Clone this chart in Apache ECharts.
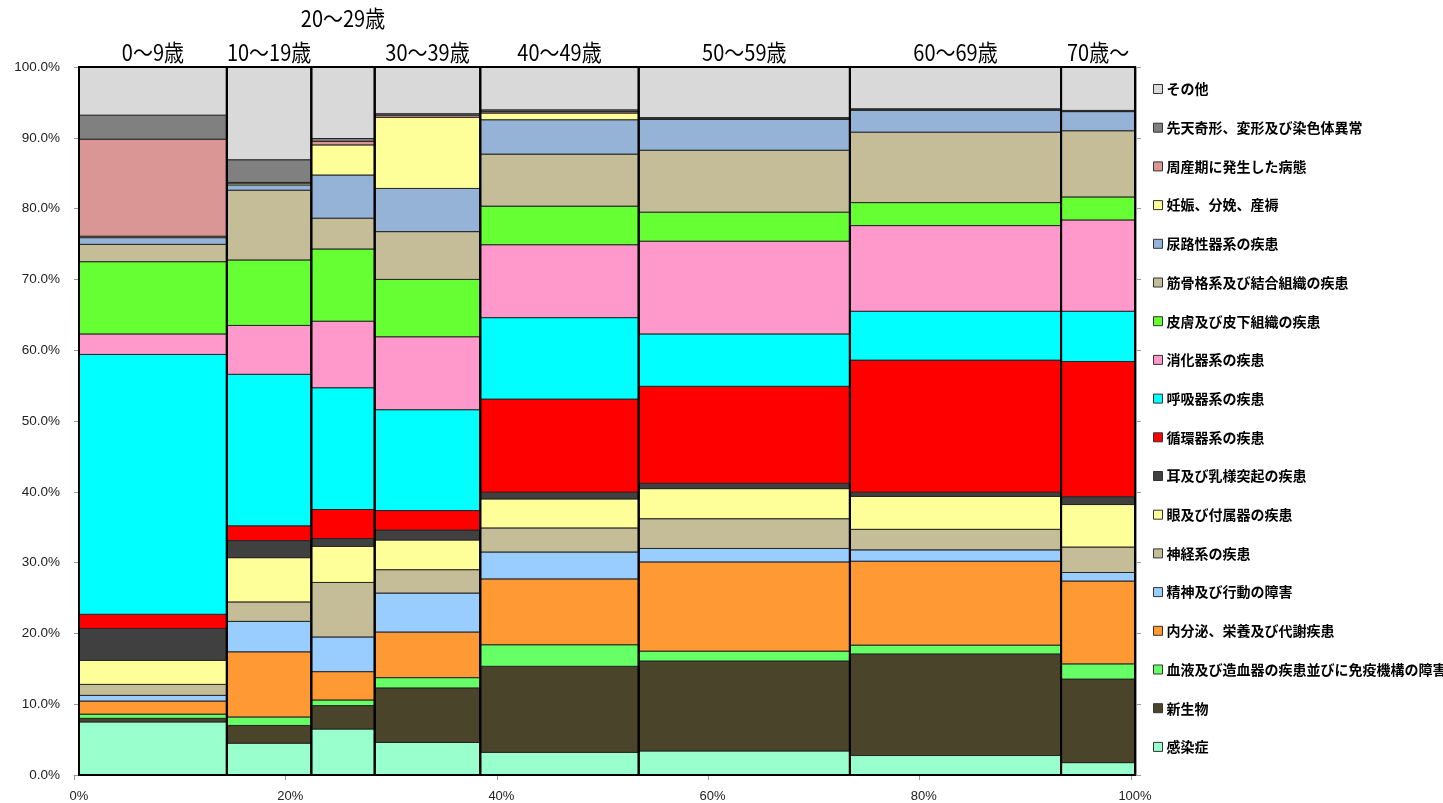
<!DOCTYPE html>
<html>
<head>
<meta charset="utf-8">
<title>年齢階級別 疾病分類構成</title>
<script src="https://cdn.jsdelivr.net/npm/echarts@6/dist/echarts.min.js"></script>
<style>
  html, body { margin: 0; padding: 0; background: #ffffff; }
  #chart { width: 1443px; height: 803px; }
</style>
</head>
<body>
<div id="chart"></div>
<script>
// Age groups along the x axis and each group's share of the total (column widths, %)
const ageGroups  = ['0～9歳', '10～19歳', '20～29歳', '30～39歳', '40～49歳', '50～59歳', '60～69歳', '70歳～'];
const groupShare = [14, 8, 6, 10, 15, 20, 20, 7];

// Composition within each age group (%), one array per disease class, bottom to top
const infectious      = [7.5, 4.5, 6.5, 4.6, 3.2, 3.4, 2.75, 1.75];
const neoplasms       = [0.5, 2.5, 3.3, 7.7, 12.15, 12.7, 14.35, 11.8];
const blood           = [0.6, 1.2, 0.8, 1.45, 3.05, 1.4, 1.25, 2.15];
const endocrine       = [1.85, 9.2, 4.0, 6.45, 9.3, 12.6, 11.85, 11.7];
const mental          = [0.8, 4.3, 4.9, 5.5, 3.8, 1.9, 1.6, 1.2];
const nervous         = [1.55, 2.75, 7.7, 3.3, 3.4, 4.2, 2.9, 3.6];
const eye             = [3.4, 6.25, 5.1, 4.2, 4.1, 4.25, 4.65, 6.0];
const ear             = [4.5, 2.4, 1.1, 1.4, 0.95, 0.75, 0.6, 1.1];
const circulatory     = [2.0, 2.1, 4.1, 2.75, 13.15, 13.7, 18.65, 19.1];
const respiratory     = [36.7, 21.4, 17.2, 14.25, 11.5, 7.4, 6.9, 7.1];
const digestive       = [2.9, 6.9, 9.4, 10.3, 10.3, 13.1, 12.1, 12.9];
const skin            = [10.2, 9.25, 10.2, 8.1, 5.45, 4.1, 3.25, 3.25];
const musculoskeletal = [2.45, 9.85, 4.35, 6.75, 7.35, 8.75, 9.95, 9.35];
const genitourinary   = [0.95, 0.75, 6.1, 6.1, 4.85, 4.35, 3.1, 2.7];
const pregnancy       = [0.2, 0.25, 4.25, 10.05, 0.95, 0.05, 0.05, 0.05];
const perinatal       = [13.7, 0.1, 0.5, 0.3, 0.2, 0.05, 0.02, 0.02];
const congenital      = [3.4, 3.2, 0.4, 0.2, 0.25, 0.15, 0.13, 0.1];
const other           = [6.8, 13.1, 10.1, 6.6, 6.05, 7.15, 5.9, 6.13];

// Axis tick labels
const xTicks = [0, 20, 40, 60, 80, 100];
const yTicks = [0, 10, 20, 30, 40, 50, 60, 70, 80, 90, 100];

// Disease classes in stacking order (bottom to top)
const diseaseNames = [
  '感染症', '新生物', '血液及び造血器の疾患並びに免疫機構の障害', '内分泌、栄養及び代謝疾患',
  '精神及び行動の障害', '神経系の疾患', '眼及び付属器の疾患', '耳及び乳様突起の疾患',
  '循環器系の疾患', '呼吸器系の疾患', '消化器系の疾患', '皮膚及び皮下組織の疾患',
  '筋骨格系及び結合組織の疾患', '尿路性器系の疾患', '妊娠、分娩、産褥', '周産期に発生した病態',
  '先天奇形、変形及び染色体異常', 'その他'
];
const diseaseValues = [
  infectious, neoplasms, blood, endocrine, mental, nervous, eye, ear,
  circulatory, respiratory, digestive, skin, musculoskeletal, genitourinary,
  pregnancy, perinatal, congenital, other
];
const diseaseColors = [
  '#99FFCC', '#4A452A', '#66FF66', '#FF9933', '#99CCFF', '#C4BD97', '#FFFF99', '#404040',
  '#FF0000', '#00FFFF', '#FF99CC', '#66FF33', '#C4BD97', '#95B3D7', '#FFFF99', '#D99694',
  '#808080', '#D9D9D9'
];

// Column extents along the x axis
const colStart = [];
const colEnd = [];
groupShare.reduce((acc, w, i) => { colStart[i] = acc; colEnd[i] = acc + w; return acc + w; }, 0);

// Cumulative stacking inside each column
const stackBase = ageGroups.map(() => 0);
const segmentSeries = diseaseNames.map((name, k) => {
  const data = diseaseValues[k].map((v, j) => {
    const y0 = stackBase[j];
    stackBase[j] += v;
    return [colStart[j], colEnd[j], y0, y0 + v];
  });
  return {
    name: name,
    type: 'custom',
    xAxisIndex: 0,
    yAxisIndex: 0,
    itemStyle: { color: diseaseColors[k], borderColor: '#333333', borderWidth: 1 },
    encode: { x: [0, 1], y: [2, 3] },
    data: data,
    renderItem: function (params, api) {
      const tl = api.coord([api.value(0), api.value(3)]);
      const br = api.coord([api.value(1), api.value(2)]);
      return {
        type: 'rect',
        shape: { x: tl[0], y: tl[1], width: br[0] - tl[0], height: br[1] - tl[1] },
        style: { fill: api.visual('color'), stroke: '#262626', lineWidth: 1 }
      };
    }
  };
});

// Text measurement for the age-group headings
const measureCtx = document.createElement('canvas').getContext('2d');
const headFont = '20px "Noto Sans CJK JP"';
measureCtx.font = headFont;

// A heading moves up a row when it would collide with the previous heading on the base row
function headingLifted(api, index) {
  let lastRight = -Infinity;
  let lifted = false;
  for (let j = 0; j <= index; j++) {
    const cx = (api.coord([colStart[j], 0])[0] + api.coord([colEnd[j], 0])[0]) / 2;
    const half = measureCtx.measureText(ageGroups[j]).width / 2;
    lifted = cx - half < lastRight + 2;
    if (!lifted) lastRight = cx + half;
  }
  return lifted;
}

// Black column outlines with the age-group heading above each column
const columnSeries = {
  name: 'columns',
  type: 'custom',
  xAxisIndex: 0,
  yAxisIndex: 0,
  silent: true,
  z: 10,
  clip: false,
  encode: { x: [0, 1] },
  data: ageGroups.map((g, j) => [colStart[j], colEnd[j]]),
  renderItem: function (params, api) {
    const tl = api.coord([api.value(0), 100]);
    const br = api.coord([api.value(1), 0]);
    const label = ageGroups[params.dataIndex];
    const lift = headingLifted(api, params.dataIndex) ? 49 : 15;
    return {
      type: 'group',
      children: [
        {
          type: 'rect',
          shape: { x: tl[0], y: tl[1], width: br[0] - tl[0], height: br[1] - tl[1] },
          style: { fill: 'none', stroke: '#000000', lineWidth: 2 }
        },
        {
          type: 'text',
          x: (tl[0] + br[0]) / 2,
          y: tl[1] - lift,
          scaleY: 1.12,
          style: {
            text: label,
            font: headFont,
            fill: '#000000',
            align: 'center',
            verticalAlign: 'middle'
          }
        }
      ]
    };
  }
};

const axisGray = '#9a9a9a';
const option = {
  animation: false,
  backgroundColor: '#ffffff',
  grid: [
    { left: 79, right: 308, top: 67, bottom: 28 },
    { left: 74, right: 312, top: 67, bottom: 28 }
  ],
  legend: {
    orient: 'vertical',
    left: 1148,
    top: 77,
    icon: 'rect',
    itemWidth: 9,
    itemHeight: 9,
    itemGap: 24.7,
    selectedMode: false,
    itemStyle: { borderColor: '#333333', borderWidth: 1 },
    textStyle: {
      fontFamily: '"Noto Sans CJK JP"',
      fontSize: 14,
      fontWeight: 'bold',
      color: '#000000',
      lineHeight: 14,
      padding: [0, 0, 0, -1]
    },
    data: diseaseNames.slice().reverse()
  },
  xAxis: [
    {
      type: 'value', gridIndex: 0, min: xTicks[0], max: xTicks[xTicks.length - 1], interval: 20,
      axisLine: { show: false }, axisTick: { show: false }, splitLine: { show: false },
      axisLabel: {
        margin: 15, color: '#222222', fontSize: 13, fontFamily: '"Liberation Sans"',
        formatter: function (v) { return v + '%'; }
      }
    },
    {
      type: 'value', gridIndex: 1, min: xTicks[0], max: xTicks[xTicks.length - 1], interval: 20,
      axisLine: { show: true, lineStyle: { color: axisGray, width: 1 } },
      axisTick: { show: true, length: 5, lineStyle: { color: axisGray } },
      axisLabel: { show: false }, splitLine: { show: false }
    }
  ],
  yAxis: [
    {
      type: 'value', gridIndex: 0, min: yTicks[0], max: yTicks[yTicks.length - 1], interval: 10,
      position: 'left', offset: 5,
      axisLine: { show: true, lineStyle: { color: axisGray, width: 1 } },
      axisTick: { show: true, length: 5, lineStyle: { color: axisGray } },
      splitLine: { show: false },
      axisLabel: {
        margin: 14, color: '#222222', fontSize: 13.5, fontFamily: '"Liberation Sans"',
        formatter: function (v) { return v.toFixed(1) + '%'; }
      }
    },
    {
      type: 'value', gridIndex: 0, min: yTicks[0], max: yTicks[yTicks.length - 1], interval: 10,
      position: 'right', offset: 1,
      axisLine: { show: true, lineStyle: { color: axisGray, width: 1 } },
      axisTick: { show: true, length: 5, lineStyle: { color: axisGray } },
      axisLabel: { show: false }, splitLine: { show: false }
    },
    {
      type: 'value', gridIndex: 1, min: 0, max: 100, show: false
    }
  ],
  series: segmentSeries.concat([columnSeries])
};

const chart = echarts.init(document.getElementById('chart'), null, { renderer: 'canvas' });
chart.setOption(option);
</script>
</body>
</html>
